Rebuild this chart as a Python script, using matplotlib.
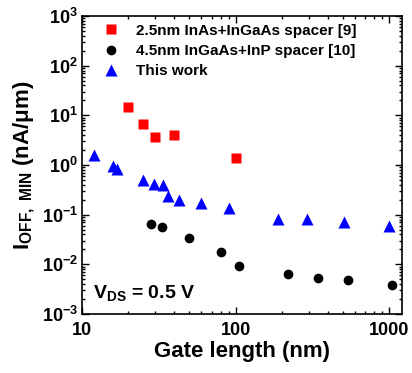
import matplotlib
matplotlib.use("Agg")
import matplotlib.pyplot as plt
from matplotlib.ticker import LogLocator, FixedLocator, FixedFormatter

plt.rcParams["font.family"] = ["Liberation Sans", "DejaVu Sans"]
plt.rcParams["font.weight"] = "bold"
plt.rcParams["mathtext.fontset"] = "custom"
plt.rcParams["mathtext.rm"] = "Liberation Sans:bold"
plt.rcParams["mathtext.it"] = "Liberation Sans:bold"
plt.rcParams["mathtext.bf"] = "Liberation Sans:bold"

# data
lg_ref9 = [20, 25, 30, 40, 100]
ioff_ref9 = [15, 6.6, 3.6, 4.05, 1.4]

lg_ref10 = [28, 33, 50, 80, 105, 219, 346, 543, 1050]
ioff_ref10 = [0.065, 0.057, 0.034, 0.0175, 0.0093, 0.0065, 0.0054, 0.0048, 0.0038]

lg_this = [12, 16, 17, 25, 29.5, 33.5, 36.3, 42.6, 60, 90, 190, 294, 509, 1000]
ioff_this = [1.6, 0.95, 0.82, 0.5, 0.42, 0.40, 0.24, 0.2, 0.173, 0.135, 0.081, 0.081, 0.072, 0.06]

labels = ["2.5nm InAs+InGaAs spacer [9]", "4.5nm InGaAs+InP spacer [10]", "This work"]

fig = plt.figure(figsize=(4.12, 3.73), dpi=100)
ax = fig.add_axes([0.199, 0.158, 0.777, 0.799])

ax.plot(lg_ref9, ioff_ref9, "s", color="#ff0000", ms=6.5, mec="none", label=labels[0])
ax.plot(lg_ref10, ioff_ref10, "o", color="k", ms=7, mec="none", label=labels[1])
ax.plot(lg_this, ioff_this, "^", color="#0000ff", ms=8, mec="none", label=labels[2])

ax.set_xscale("log")
ax.set_yscale("log")
ax.set_xlim(10, 1215)
ax.set_ylim(1e-3, 1e3)

ax.xaxis.set_major_locator(FixedLocator([10, 100, 1000]))
ax.xaxis.set_major_formatter(FixedFormatter(["10", "100", "1000"]))
ax.yaxis.set_major_locator(FixedLocator([10.0**k for k in range(-3, 4)]))
ax.yaxis.set_major_formatter(FixedFormatter([r"$10^{%d}$" % k for k in range(-3, 4)]))
ax.xaxis.set_minor_locator(LogLocator(base=10, subs=range(2, 10)))
ax.yaxis.set_minor_locator(LogLocator(base=10, subs=range(2, 10)))
ax.xaxis.set_minor_formatter(FixedFormatter([]))
ax.tick_params(which="both", direction="in", top=True, right=True, width=1)
ax.tick_params(which="major", length=5, labelsize=13)
ax.tick_params(axis="x", which="major", pad=6)
ax.tick_params(axis="y", which="major", pad=3)
ax.tick_params(which="minor", length=2.5)
for s in ax.spines.values():
    s.set_linewidth(1.2)

ax.set_xlabel("Gate length (nm)", size=16, fontweight="bold", labelpad=1)
ax.set_ylabel(r"$\mathregular{I_{OFF,\ MIN}}$ (nA/μm)", size=16, fontweight="bold", labelpad=3)

ax.text(0.035, 0.055, r"$\mathregular{V_{DS}}$ = 0.5 V", transform=ax.transAxes,
        size=14, fontweight="bold")

ax.legend(loc="upper left", frameon=False, fontsize=11, handletextpad=0.9,
          borderaxespad=0.3, labelspacing=0.4, handlelength=1.5,
          bbox_to_anchor=(0.02, 1.01))

fig.savefig("out.png", dpi=100)
